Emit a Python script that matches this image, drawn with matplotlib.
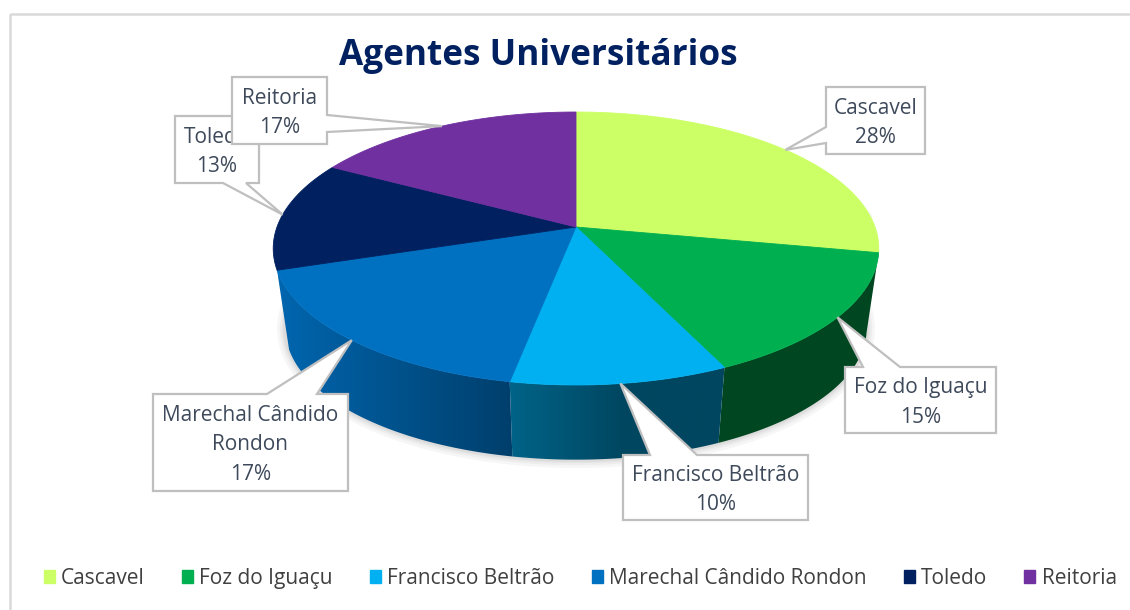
import numpy as np
import matplotlib.pyplot as plt
from matplotlib.patches import Polygon, Patch, Rectangle
from matplotlib.colors import to_rgb

titulo = "Agentes Universitários"
campus = ["Cascavel", "Foz do Iguaçu", "Francisco Beltrão",
          "Marechal Cândido Rondon", "Toledo", "Reitoria"]
valores = [28, 15, 10, 17, 13, 17]
cores = ["#CCFF66", "#00B050", "#00B0F0", "#0070C0", "#002060", "#7030A0"]
rotulos = ["Cascavel\n28%", "Foz do Iguaçu\n15%", "Francisco Beltrão\n10%",
           "Marechal Cândido\nRondon\n17%", "Toledo\n13%", "Reitoria\n17%"]

# caixas dos rotulos: (x0, x1, y0, y1), lado da seta, base da seta
caixas = [
    ((826, 925, 87, 154), "left", (127, 143)),
    ((845, 996, 367, 433), "top", (863, 900)),
    ((623, 808, 455, 520), "top", (650, 697)),
    ((153, 348, 394, 491), "top", (267, 317)),
    ((175, 259, 116, 183), "bottom", (223, 246)),
    ((232, 327, 77, 144), "right", (115, 132)),
]

fonte = "Open Sans"

# geometria da pizza 3d (pixels)
cx, cy = 576, 227
A, B, k = 299, 133.1, 0.1575
prof = 81
esc_base = 0.96

def proj(t, r=1.0, baixo=False):
    u, v = np.sin(t) * r, np.cos(t) * r
    w = 1 + k * v
    if baixo:
        return cx + A * esc_base * u / w, cy + prof - B * esc_base * v / w
    return cx + A * u / w, cy - B * v / w

def luz(t):
    n = np.stack([np.sin(t), np.cos(t)])
    d = np.clip(-0.9 * n[0] - 0.12 * n[1], 0, None)
    return 0.4 + 0.58 * d

fig = plt.figure(figsize=(11.3, 6.1), dpi=100)
ax = fig.add_axes([0, 0, 1, 1])
ax.set_xlim(0, 1130)
ax.set_ylim(610, 0)
ax.axis("off")

# moldura do grafico
ax.add_patch(Rectangle((10, 14), 1140, 620, fill=False, ec="#D9D9D9", lw=1.8))

total = sum(valores)
limites = np.concatenate([[0], np.cumsum(valores)]) / total * 2 * np.pi

# sombra suave so embaixo
ts_sombra = np.linspace(np.pi / 2 - 0.15, 3 * np.pi / 2 + 0.15, 200)
sx, sy = zip(*[proj(t, baixo=True) for t in ts_sombra])
sx = [proj(ts_sombra[0])[0] - 1] + list(sx) + [proj(ts_sombra[-1])[0] + 1]
sy = [proj(ts_sombra[0])[1] + 10] + list(sy) + [proj(ts_sombra[-1])[1] + 10]
for lw in [12, 8, 5, 3]:
    ax.plot(sx, sy, color="black", lw=lw, alpha=0.035, solid_capstyle="round",
            solid_joinstyle="round", zorder=0)

# lateral com degrade, so das fatias da frente
tf = np.linspace(np.arccos(-k) - 0.05, 2 * np.pi - np.arccos(-k) + 0.05, 400)
xf = np.array([proj(t)[0] for t in tf])
for i in range(len(valores)):
    if np.cos((limites[i] + limites[i + 1]) / 2) >= 0:
        continue
    ts = np.linspace(limites[i], limites[i + 1], 120)
    topo = [proj(t) for t in ts]
    fundo = [proj(t, baixo=True) for t in ts[::-1]]
    lado = Polygon(topo + fundo, closed=True, fc="none", ec="none")
    ax.add_patch(lado)
    xs = np.array([p[0] for p in topo + fundo])
    ys = np.array([p[1] for p in topo + fundo])
    xcol = np.linspace(xs.min(), xs.max(), 300)
    tcol = np.interp(xcol, xf[::-1], tf[::-1])
    img = np.array(to_rgb(cores[i]))[None, None, :] * luz(tcol)[None, :, None]
    im = ax.imshow(img, extent=(xs.min() - 1, xs.max() + 1, ys.max() + 1, ys.min() - 1),
                   aspect="auto", interpolation="bilinear", zorder=0.5)
    im.set_clip_path(lado)

# topo
for i in range(len(valores)):
    ts = np.linspace(limites[i], limites[i + 1], 100)
    pts = [(cx, cy)] + [proj(t) for t in ts]
    ax.add_patch(Polygon(pts, closed=True, fc=cores[i], ec=cores[i], lw=0.6, zorder=1))

# rotulos com seta
def balao(box, lado, base, tip):
    x0, x1, y0, y1 = box
    a, b = base
    p = [(x0, y0)]
    if lado == "top":
        p += [(a, y0), tip, (b, y0)]
    p += [(x1, y0)]
    if lado == "right":
        p += [(x1, a), tip, (x1, b)]
    p += [(x1, y1)]
    if lado == "bottom":
        p += [(b, y1), tip, (a, y1)]
    p += [(x0, y1)]
    if lado == "left":
        p += [(x0, b), tip, (x0, a)]
    return p

for i, (box, lado, base) in enumerate(caixas):
    tm = (limites[i] + limites[i + 1]) / 2
    tip = proj(tm)
    z = 5 + i
    pol = Polygon(balao(box, lado, base, tip), closed=True, fc="white",
                  ec="#BFBFBF", lw=1.6, zorder=z, joinstyle="miter")
    ax.add_patch(pol)
    ax.text((box[0] + box[1]) / 2, (box[2] + box[3]) / 2 + 2.5, rotulos[i],
            ha="center", va="center", fontsize=15, family=fonte,
            color="#3E4A5B", linespacing=1.55, zorder=z)

ax.text(538, 65, titulo, ha="center", va="baseline", fontsize=25.3,
        weight="bold", family=fonte, color="#002060")

handles = [Patch(facecolor=c, edgecolor=c) for c in cores]
leg = ax.legend(handles, campus, loc="center", bbox_to_anchor=(0.5135, 0.052),
                ncol=6, frameon=False, prop={"family": fonte, "size": 15},
                handlelength=0.53, handleheight=0.53, handletextpad=0.3,
                columnspacing=1.78)
for t in leg.get_texts():
    t.set_color("#404040")

fig.savefig("out.png", dpi=100)
